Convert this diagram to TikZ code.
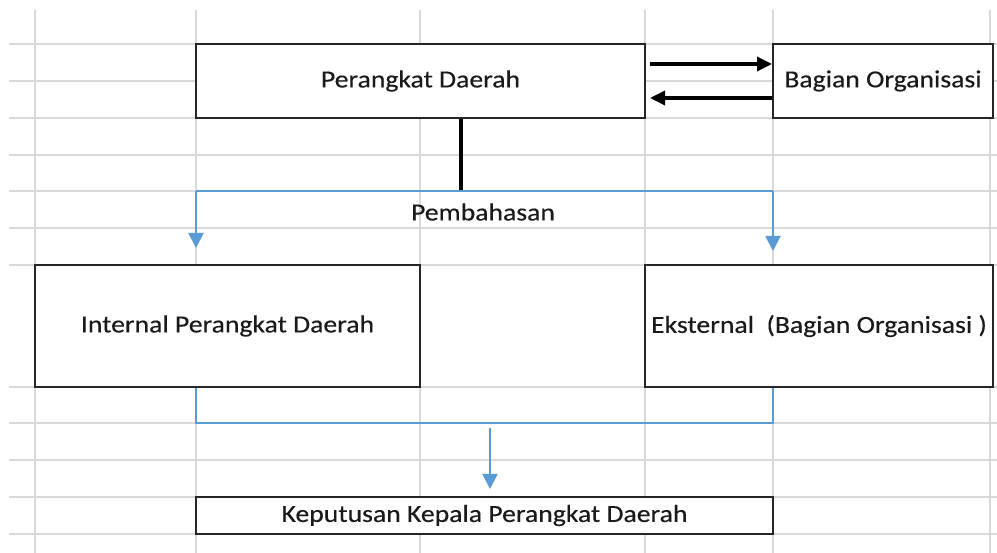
\documentclass[tikz,border=0pt]{standalone}
\usepackage{fontspec}
\setmainfont[FakeStretch=1.13,FakeBold=0.3]{Carlito}
\usetikzlibrary{arrows.meta,calc}
\definecolor{gridc}{HTML}{D9D9D9}
\definecolor{bluec}{HTML}{5B9BD5}
\definecolor{boxc}{HTML}{262626}
\definecolor{textc}{HTML}{1A1A1A}
\begin{document}
\begin{tikzpicture}[x=1pt,y=-1pt,
  gridline/.style={draw=gridc,line width=1.6pt},
  box/.style={draw=boxc,line width=2pt,fill=white,inner sep=0pt,text=textc,font=\fontsize{24.5}{28}\selectfont},
  lbl/.style={inner sep=0pt,text=textc,font=\fontsize{24.5}{28}\selectfont},
  blackarrow/.style={draw=black,line width=3.4pt,-{Triangle[length=15pt,width=14pt]}},
  blackline/.style={draw=black,line width=3.4pt},
  blueline/.style={draw=bluec,line width=1.9pt},
  bluearrow/.style={draw=bluec,line width=1.9pt,-{Triangle[length=15pt,width=15pt]}}]
\fill[white] (0,0) rectangle (997,553);
\useasboundingbox (0,0) rectangle (997,553);
% grid
\foreach \yy in {44,81,118,155,191,228,265,387,423,460,497,534}
  \draw[gridline] (9,\yy) -- (997,\yy);
\foreach \xx in {35,196,420,645,773,990}
  \draw[gridline] (\xx,10) -- (\xx,553);
% boxes
\node[box,minimum width=449pt,minimum height=74pt] (pd) at (420.5,81) {Perangkat Daerah};
\node[box,minimum width=220pt,minimum height=74pt] (bo) at (883,81) {Bagian Organisasi};
\node[box,minimum width=385pt,minimum height=122pt] (int) at (227.5,326) {Internal Perangkat Daerah};
\node[box,minimum width=348pt,minimum height=122pt] (eks) at (819,326) {Eksternal\ \ (Bagian Organisasi )};
\node[box,minimum width=577pt,minimum height=37pt] (kep) at (484.5,515.5) {Keputusan Kepala Perangkat Daerah};
\node[lbl] (pem) at (483,212) {Pembahasan};
% black arrows between top boxes
\draw[blackarrow] ($(pd.east)+(4,-17)$) -- ($(bo.west)+(0,-17)$);
\draw[blackarrow] ($(bo.west)+(0,17)$) -- ($(pd.east)+(4,17)$);
% split
\coordinate (split) at (461,191);
\coordinate (bl) at (196,191);
\coordinate (br) at (773,191);
\draw[blackline] (pd.south -| split) -- (split);
\draw[blueline] (bl) -- (br);
\draw[bluearrow] (bl) -- ($(bl |- int.north)+(0,-16)$);
\draw[bluearrow] (br) -- ($(br |- eks.north)+(0,-13)$);
% merge
\coordinate (ml) at (196,423);
\coordinate (mr) at (773,423);
\coordinate (mid) at (490,428);
\draw[blueline] (ml |- int.south) -- (ml) -- (mr) -- (mr |- eks.south);
\draw[bluearrow] (mid) -- ($(mid |- kep.north)+(0,-7)$);
\end{tikzpicture}
\end{document}
